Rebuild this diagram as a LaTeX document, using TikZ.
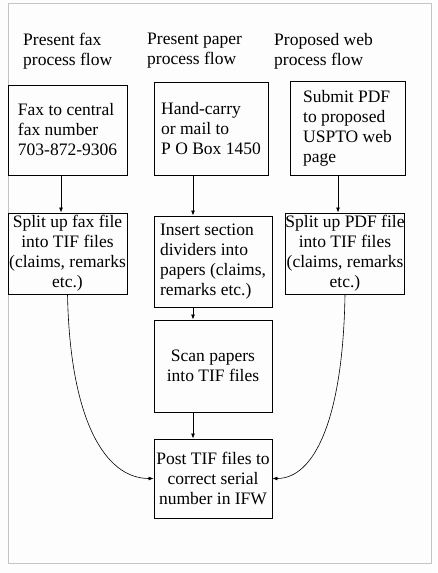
\documentclass[tikz,border=0pt]{standalone}
\usepackage{fontspec}
\setmainfont{Liberation Serif}
\usetikzlibrary{arrows.meta,positioning}
\definecolor{framegrey}{RGB}{196,196,196}
\definecolor{pagewhite}{RGB}{253,253,253}

\begin{document}
\begin{tikzpicture}[
    x=1pt, y=-1pt,
    flowbox/.style={rectangle, draw=black, line width=0.9pt, inner sep=0pt,
        font=\fontsize{17.5}{20}\selectfont},
    flowtitle/.style={anchor=west, align=left, inner sep=0pt,
        font=\fontsize{17.5}{20}\selectfont},
    flowarrow/.style={-{Latex[length=5pt,width=4pt]}, line width=0.8pt},
    flowcurve/.style={-{Latex[length=5pt,width=4pt]}, line width=0.6pt}
]
\useasboundingbox (0,0) rectangle (437,573);
\fill[pagewhite] (0,0) rectangle (437,573);
\draw[framegrey, line width=0.8pt] (8,3) rectangle (431,563);

% column titles
\node[flowtitle] (tfax) at (23,51) {Present fax\\process flow};
\node[flowtitle] (tpaper) at (147,51) {Present paper\\process flow};
\node[flowtitle] (tweb) at (274,51) {Proposed web\\process flow};

% first row
\node[flowbox, minimum width=119pt, minimum height=90pt, align=left] (fax1) at (67.5,130)
    {Fax to central\\fax number\\703-872-9306};
\node[flowbox, minimum width=114pt, minimum height=93pt, align=left] (paper1) at (211,128.5)
    {Hand-carry\\or mail to\\P O Box 1450};
\node[flowbox, minimum width=115pt, minimum height=94pt, align=left] (web1) at (347.5,128)
    {Submit PDF\\to proposed\\USPTO web\\page};

% second row
\node[flowbox, minimum width=119pt, minimum height=81pt, align=center] (fax2) at (67.5,253.5)
    {Split up fax file\\into TIF files\\(claims, remarks\\etc.)};
\node[flowbox, minimum width=118pt, minimum height=91pt, align=left] (paper2) at (213,261.5)
    {Insert section\\dividers into\\papers (claims,\\remarks etc.)};
\node[flowbox, minimum width=118pt, minimum height=81pt, align=center] (web2) at (345,253.5)
    {Split up PDF file\\into TIF files\\(claims, remarks\\etc.)};

% paper column
\node[flowbox, minimum width=118pt, minimum height=92pt, align=center] (scan) at (213,366)
    {Scan papers\\into TIF files};
\node[flowbox, minimum width=118pt, minimum height=79pt, align=center] (post) at (213,478.5)
    {Post TIF files to\\correct serial\\number in IFW};

\draw[flowarrow] ([xshift=-6.5pt]fax1.south) -- ([xshift=-6.5pt]fax1.south |- fax2.north);
\draw[flowarrow] ([xshift=-18pt]paper1.south) -- ([xshift=-18pt]paper1.south |- paper2.north);
\draw[flowarrow] ([xshift=-9.5pt]web1.south) -- ([xshift=-9.5pt]web1.south |- web2.north);
\draw[flowarrow] ([xshift=-20pt]paper2.south) -- ([xshift=-20pt]paper2.south |- scan.north);
\draw[flowarrow] ([xshift=-20pt]scan.south) -- ([xshift=-20pt]scan.south |- post.north);

\draw[flowcurve] (fax2.south) .. controls (70,420) and (105,478.5) .. (post.west);
\draw[flowcurve] (web2.south) .. controls (343,420) and (314,478.5) .. (post.east);
\end{tikzpicture}
\end{document}
